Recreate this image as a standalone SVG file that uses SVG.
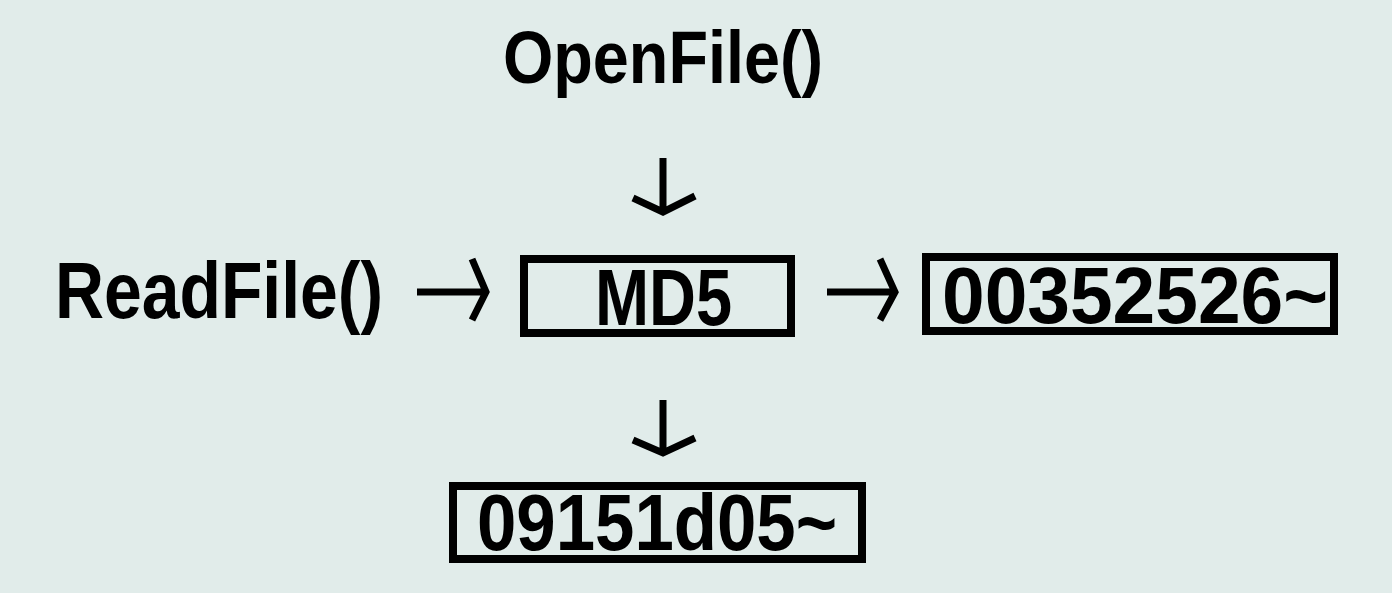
<svg xmlns="http://www.w3.org/2000/svg" width="1392" height="593" viewBox="0 0 1392 593">
<style>
.t{font-family:"Liberation Sans","DejaVu Sans",sans-serif;font-weight:bold;fill:#000}
.box{fill:none;stroke:#000;stroke-width:8}
.arr{fill:none;stroke:#000;stroke-width:7;stroke-linecap:butt;stroke-linejoin:miter}
</style>
<rect width="1392" height="593" fill="#e1ecea"/>
<g id="openfile"><text class="t" x="503" y="83" font-size="74" textLength="320" lengthAdjust="spacingAndGlyphs">OpenFile()</text></g>
<g id="readfile"><text class="t" x="55" y="318" font-size="80" textLength="328" lengthAdjust="spacingAndGlyphs">ReadFile()</text></g>
<g id="md5"><rect class="box" x="524" y="259" width="267" height="74"/><text class="t" x="595" y="325" font-size="80" textLength="137" lengthAdjust="spacingAndGlyphs">MD5</text></g>
<g id="hash1"><rect class="box" x="926" y="257" width="408" height="74"/><text class="t" x="942" y="323" font-size="80" textLength="386" lengthAdjust="spacingAndGlyphs">00352526~</text></g>
<g id="hash2"><rect class="box" x="453" y="486" width="409" height="73"/><text class="t" x="477" y="550" font-size="80" textLength="360" lengthAdjust="spacingAndGlyphs">09151d05~</text></g>
<g id="connectors">
<path class="arr" d="M663,158 V212 M633,198 L663,212 L695,196"/>
<path class="arr" d="M417,292 H486 M472,259 L486,292 L472,320"/>
<path class="arr" d="M827,292 H895 M880,259 L895,292 L880,320"/>
<path class="arr" d="M663,400 V453 M633,440 L663,453 L695,438"/>
</g>
</svg>
